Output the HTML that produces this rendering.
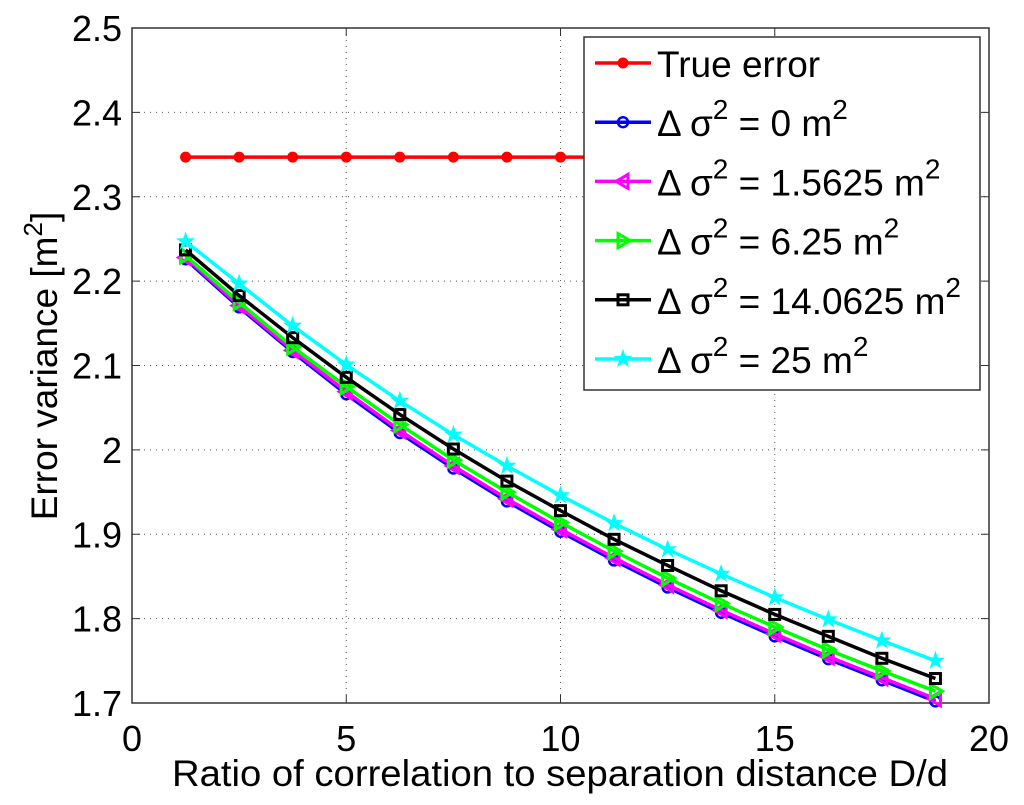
<!DOCTYPE html>
<html><head><meta charset="utf-8"><style>
body{margin:0;background:#fff}
svg{display:block;font-family:"Liberation Sans",sans-serif}
</style></head><body>
<svg id="c" width="1024" height="805"></svg>
<script>
const xs=[1.25,2.5,3.75,5,6.25,7.5,8.75,10,11.25,12.5,13.75,15,16.25,17.5,18.75];
const trueErr=[2.347,2.347,2.347,2.347,2.347,2.347,2.347,2.347,2.347,2.347,2.347,2.347,2.347,2.347,2.347];
const s0=[2.226,2.169,2.116,2.066,2.020,1.978,1.939,1.903,1.869,1.837,1.807,1.779,1.752,1.727,1.702];
const s1=[2.228,2.171,2.118,2.069,2.023,1.981,1.942,1.906,1.872,1.840,1.810,1.782,1.755,1.730,1.705];
const s2=[2.230,2.175,2.122,2.075,2.030,1.988,1.950,1.914,1.880,1.848,1.818,1.790,1.763,1.738,1.714];
const s3=[2.237,2.183,2.133,2.086,2.042,2.001,1.963,1.928,1.894,1.863,1.833,1.805,1.779,1.753,1.729];
const s4=[2.247,2.197,2.147,2.101,2.058,2.018,1.981,1.946,1.913,1.882,1.853,1.825,1.799,1.774,1.750];
const xTicks=[0,5,10,15,20];
const yTicks=[1.7,1.8,1.9,2.0,2.1,2.2,2.3,2.4,2.5];
const yTickLabels=["1.7","1.8","1.9","2","2.1","2.2","2.3","2.4","2.5"];
const legendLabels=["0","1.5625","6.25","14.0625","25"];

const L=132,R=989,T=28,B=703;
const X=v=>L+(v-0)/20*(R-L);
const Y=v=>B-(v-1.7)/0.8*(B-T);
const svg=document.getElementById('c');
const NS='http://www.w3.org/2000/svg';
function mk(tag,attrs,parent){const e=document.createElementNS(NS,tag);for(const k in attrs)e.setAttribute(k,attrs[k]);(parent||svg).appendChild(e);return e;}

xTicks.forEach(t=>{
  if(t>0&&t<20){const g=mk('line',{x1:X(t),x2:X(t),y1:T,y2:B,stroke:'#555','stroke-dasharray':'1,5','stroke-width':1});
  
  }
});
yTicks.forEach(t=>{
  if(t>1.71&&t<2.49){const g=mk('line',{x1:L,x2:R,y1:Y(t),y2:Y(t),stroke:'#555','stroke-dasharray':'1,5','stroke-width':1});
  
  }
});
const box=mk('rect',{x:L,y:T,width:R-L,height:B-T,fill:'none',stroke:'#333','stroke-width':1.5});


xTicks.forEach(t=>{
  mk('line',{x1:X(t),x2:X(t),y1:B,y2:B-8,stroke:'#333'});
  mk('line',{x1:X(t),x2:X(t),y1:T,y2:T+8,stroke:'#333'});
  const tx=mk('text',{x:X(t),y:B+48,'font-size':36,'text-anchor':'middle'});tx.textContent=t;
  
  
});
yTicks.forEach((t,i)=>{
  mk('line',{x1:L,x2:L+8,y1:Y(t),y2:Y(t),stroke:'#333'});
  mk('line',{x1:R,x2:R-8,y1:Y(t),y2:Y(t),stroke:'#333'});
  const tx=mk('text',{x:L-10,y:Y(t)+13,'font-size':36,'text-anchor':'end'});tx.textContent=yTickLabels[i];
  
  
});
const xt=mk('text',{x:560,y:786,'font-size':37,'text-anchor':'middle',textLength:776,lengthAdjust:'spacingAndGlyphs'});
xt.textContent='Ratio of correlation to separation distance D/d';


const yt=mk('text',{x:0,y:0,'font-size':37,'text-anchor':'middle',transform:'translate(57,366) rotate(-90)'});
yt.innerHTML='Error variance [m<tspan dy="-15" font-size="26">2</tspan><tspan dy="15">]</tspan>';



function marker(g,type,x,y,c){
  if(type==='dot')mk('circle',{cx:x,cy:y,r:5.5,fill:c},g);
  else if(type==='circle')mk('circle',{cx:x,cy:y,r:5,fill:'none',stroke:c,'stroke-width':2.5},g);
  else if(type==='left')mk('polygon',{points:`${x-7},${y} ${x+5},${y-7} ${x+5},${y+7}`,fill:'none',stroke:c,'stroke-width':3},g);
  else if(type==='right')mk('polygon',{points:`${x+7},${y} ${x-5},${y-7} ${x-5},${y+7}`,fill:'none',stroke:c,'stroke-width':3},g);
  else if(type==='square')mk('rect',{x:x-5,y:y-5,width:10,height:10,fill:'none',stroke:c,'stroke-width':3},g);
  else if(type==='star'){let p=[];for(let i=0;i<10;i++){const r=i%2?4:10,a=-Math.PI/2+i*Math.PI/5;p.push((x+r*Math.cos(a)).toFixed(1)+','+(y+r*Math.sin(a)).toFixed(1));}
    mk('polygon',{points:p.join(' '),fill:c},g);}
}
const series=[
 {d:trueErr,c:'#ff0000',m:'dot',n:'series-true-error'},
 {d:s0,c:'#0000ff',m:'circle',n:'series-ds-0'},
 {d:s1,c:'#ff00ff',m:'left',n:'series-ds-1-5625'},
 {d:s2,c:'#00ff00',m:'right',n:'series-ds-6-25'},
 {d:s3,c:'#000000',m:'square',n:'series-ds-14-0625'},
 {d:s4,c:'#00ffff',m:'star',n:'series-ds-25'}];
series.forEach(s=>{
  const g=mk('g',{});
  
  
  mk('polyline',{points:xs.map((x,i)=>X(x)+','+Y(s.d[i])).join(' '),fill:'none',stroke:s.c,'stroke-width':3.5},g);
  xs.forEach((x,i)=>marker(g,s.m,X(x),Y(s.d[i]),s.c));
});
const lg=mk('g',{});


mk('rect',{x:584,y:37,width:396,height:353,fill:'#fff',stroke:'#333','stroke-width':1.5},lg);
series.forEach((s,i)=>{
  const y=63+i*59.2;
  const e=mk('g',{},lg);
  
  
  mk('line',{x1:595,x2:651,y1:y,y2:y,stroke:s.c,'stroke-width':3.5},e);
  marker(e,s.m,623,y,s.c);
  const t=mk('text',{x:657,y:y+14,'font-size':37},e);
  if(i===0)t.textContent='True error';
  else t.innerHTML='Δ σ<tspan dy="-17" font-size="28">2</tspan><tspan dy="17"> = '+legendLabels[i-1]+' m</tspan><tspan dy="-17" font-size="28">2</tspan>';
});
</script>
</body></html>
